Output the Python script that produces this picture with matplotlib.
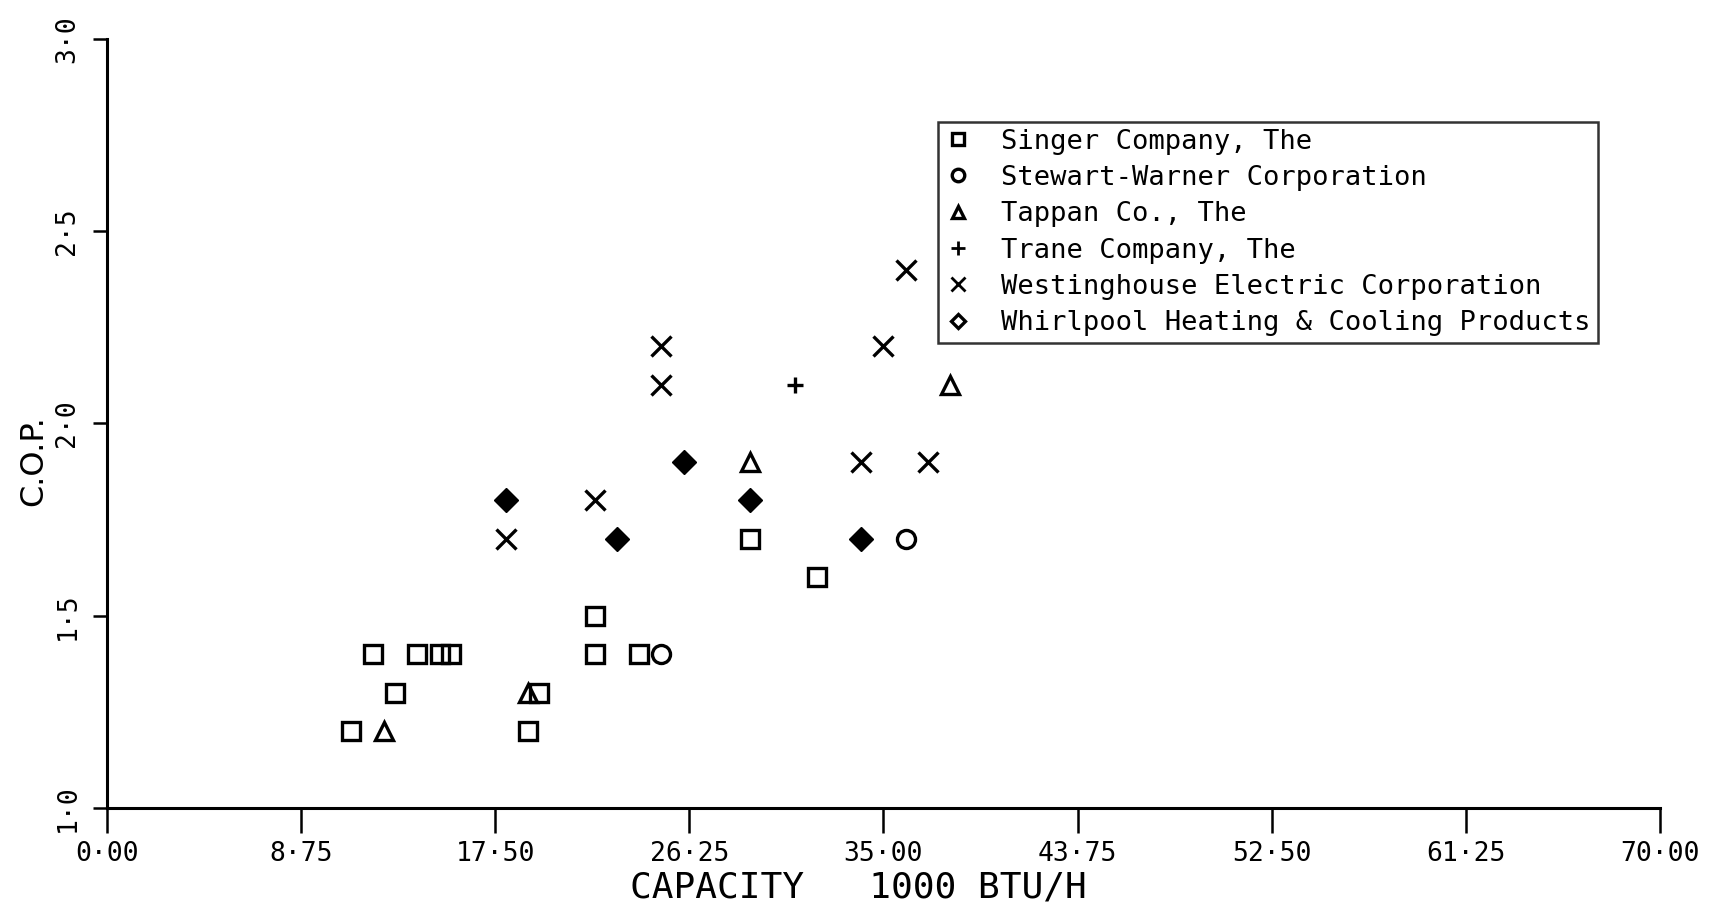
import matplotlib
matplotlib.use("Agg")
import matplotlib.pyplot as plt
from matplotlib.lines import Line2D

# capacity (1000 BTU/H) and C.O.P. per manufacturer
singer_cap = [11, 12, 13, 14, 15, 15.5, 19, 19.5, 22, 22, 24, 29, 32]
singer_cop = [1.2, 1.4, 1.3, 1.4, 1.4, 1.4, 1.2, 1.3, 1.5, 1.4, 1.4, 1.7, 1.6]
stewart_cap = [25, 36]
stewart_cop = [1.4, 1.7]
tappan_cap = [12.5, 19, 29, 38]
tappan_cop = [1.2, 1.3, 1.9, 2.1]
trane_cap = [26, 31]
trane_cop = [1.9, 2.1]
westing_cap = [18, 22, 25, 25, 34, 35, 36, 37]
westing_cop = [1.7, 1.8, 2.1, 2.2, 1.9, 2.2, 2.4, 1.9]
whirl_cap = [18, 23, 26, 29, 34]
whirl_cop = [1.8, 1.7, 1.9, 1.8, 1.7]

makers = ["Singer Company, The", "Stewart-Warner Corporation", "Tappan Co., The",
          "Trane Company, The", "Westinghouse Electric Corporation",
          "Whirlpool Heating & Cooling Products"]
x_ticks = [0, 8.75, 17.5, 26.25, 35, 43.75, 52.5, 61.25, 70]
x_ticklabels = ["0·00", "8·75", "17·50", "26·25", "35·00", "43·75", "52·50", "61·25", "70·00"]
y_ticks = [1.0, 1.5, 2.0, 2.5, 3.0]
y_ticklabels = ["1·0", "1·5", "2·0", "2·5", "3·0"]

plt.rcParams["font.family"] = ["DejaVu Sans Mono", "DejaVu Sans"]

fig = plt.figure(figsize=(17.27, 9.13), dpi=100)
ax = fig.add_axes([0.0618, 0.115, 0.8994, 0.8425])

open_kw = dict(linestyle="none", markerfacecolor="none", markeredgecolor="black",
               markeredgewidth=2.4, color="black")
ax.plot(singer_cap, singer_cop, marker="s", markersize=12.5, **open_kw)
ax.plot(stewart_cap, stewart_cop, marker="o", markersize=13, **open_kw)
ax.plot(tappan_cap, tappan_cop, marker="^", markersize=13, **open_kw)
ax.plot(whirl_cap, whirl_cop, marker="D", markersize=12, linestyle="none",
        color="black", markeredgecolor="black")
ax.plot(trane_cap, trane_cop, marker="+", markersize=12, markeredgewidth=2.4,
        linestyle="none", color="black")
ax.plot(westing_cap, westing_cop, marker="x", markersize=14, markeredgewidth=2.4,
        linestyle="none", color="black")

ax.set_xlim(0, 70)
ax.set_ylim(1.0, 3.0)
ax.set_xticks(x_ticks)
ax.set_xticklabels(x_ticklabels, fontsize=19)
ax.set_yticks(y_ticks)
ax.set_yticklabels(y_ticklabels, fontsize=19, rotation=90, va="center")
ax.tick_params(axis="x", length=18, width=1.8, pad=6, direction="out")
ax.tick_params(axis="y", length=10, width=1.8, pad=9, direction="out")

for side in ("top", "right"):
    ax.spines[side].set_visible(False)
for side in ("left", "bottom"):
    ax.spines[side].set_linewidth(2.2)

ax.set_xlabel("CAPACITY   1000 BTU/H", fontsize=26)
ax.xaxis.set_label_coords(0.4836, -0.081)
ax.set_ylabel("C.O.P.", fontsize=23, family="DejaVu Sans")
ax.yaxis.set_label_coords(-0.037, 0.452)

# legend keys drawn small and open, as on the plotter key
handles = [
    Line2D([], [], marker="s", markersize=9, **open_kw),
    Line2D([], [], marker="o", markersize=9, **open_kw),
    Line2D([], [], marker="^", markersize=9, **open_kw),
    Line2D([], [], marker="+", markersize=10, markeredgewidth=2, linestyle="none", color="black"),
    Line2D([], [], marker="x", markersize=10, markeredgewidth=2, linestyle="none", color="black"),
    Line2D([], [], marker="D", markersize=7, **open_kw),
]
leg = ax.legend(handles, makers, loc="upper left", bbox_to_anchor=(0.535, 0.892),
                borderaxespad=0, fontsize=19.5, frameon=True, fancybox=False,
                handlelength=1.0, handletextpad=1.1, labelspacing=0.38,
                borderpad=0.25)
leg.get_frame().set_edgecolor("black")
leg.get_frame().set_linewidth(1.8)

fig.savefig("out.png", dpi=100, facecolor="white")
